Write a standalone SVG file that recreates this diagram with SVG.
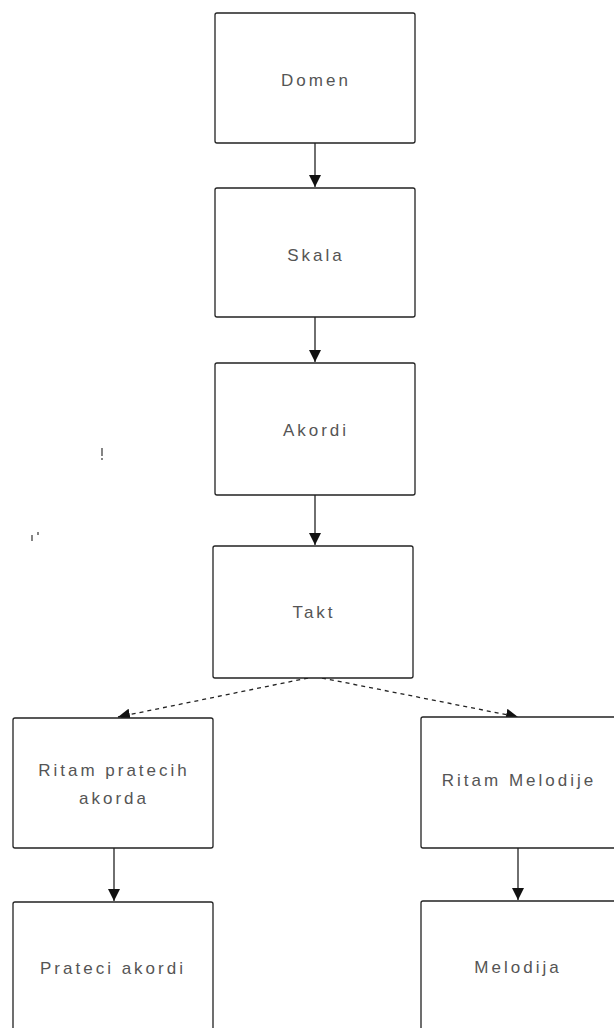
<svg xmlns="http://www.w3.org/2000/svg" width="614" height="1028" viewBox="0 0 614 1028">
  <defs>
    <style>
      .box { fill: #ffffff; stroke: #222222; stroke-width: 1.3; }
      .lbl { font-family: "Liberation Sans", Arial, sans-serif; font-size: 17px; letter-spacing: 3px; fill: #555555; text-anchor: middle; }
      .link { fill: none; stroke: #222222; stroke-width: 1.3; }
      .dash { fill: none; stroke: #222222; stroke-width: 1.3; stroke-dasharray: 4 4; }
      .speck { fill: none; stroke: #333333; stroke-width: 1.2; }
    </style>
    <marker id="tip" viewBox="0 0 12 12" refX="12" refY="6" markerWidth="12" markerHeight="12" markerUnits="userSpaceOnUse" orient="auto">
      <path d="M0,0 L12,6 L0,12 Z" fill="#111111"/>
    </marker>
  </defs>

  <rect width="614" height="1028" fill="#ffffff"/>

  <!-- connectors -->
  <g id="connectors">
    <line class="link" x1="315" y1="143" x2="315" y2="187" marker-end="url(#tip)"/>
    <line class="link" x1="315" y1="317" x2="315" y2="362" marker-end="url(#tip)"/>
    <line class="link" x1="315" y1="495" x2="315" y2="545" marker-end="url(#tip)"/>
    <path class="dash" d="M308,678 L118,717" marker-end="url(#tip)"/>
    <path class="dash" d="M322,678 L518,717" marker-end="url(#tip)"/>
    <line class="link" x1="114" y1="848" x2="114" y2="901" marker-end="url(#tip)"/>
    <line class="link" x1="518" y1="848" x2="518" y2="900" marker-end="url(#tip)"/>
  </g>

  <g id="domen">
    <rect class="box" x="215" y="13" width="200" height="130" rx="2"/>
    <text class="lbl" x="316" y="86">Domen</text>
  </g>
  <g id="skala">
    <rect class="box" x="215" y="188" width="200" height="129" rx="2"/>
    <text class="lbl" x="316" y="261">Skala</text>
  </g>
  <g id="akordi">
    <rect class="box" x="215" y="363" width="200" height="132" rx="2"/>
    <text class="lbl" x="316" y="436">Akordi</text>
  </g>
  <g id="takt">
    <rect class="box" x="213" y="546" width="200" height="132" rx="2"/>
    <text class="lbl" x="314" y="618">Takt</text>
  </g>
  <g id="ritam-pratecih">
    <rect class="box" x="13" y="718" width="200" height="130" rx="2"/>
    <text class="lbl" x="114" y="776">Ritam pratecih</text>
    <text class="lbl" x="114" y="804">akorda</text>
  </g>
  <g id="ritam-melodije">
    <rect class="box" x="421" y="717" width="200" height="131" rx="2"/>
    <text class="lbl" x="519" y="786">Ritam Melodije</text>
  </g>
  <g id="prateci-akordi">
    <rect class="box" x="13" y="902" width="200" height="140" rx="2"/>
    <text class="lbl" x="113" y="974">Prateci akordi</text>
  </g>
  <g id="melodija">
    <rect class="box" x="421" y="901" width="200" height="140" rx="2"/>
    <text class="lbl" x="518" y="973">Melodija</text>
  </g>

  <!-- stray marks -->
  <g id="marks">
    <line class="speck" x1="102" y1="448" x2="102" y2="456"/>
    <line class="speck" x1="102" y1="458" x2="102" y2="460"/>
    <line class="speck" x1="32" y1="535" x2="32" y2="541"/>
    <line class="speck" x1="38" y1="532" x2="38" y2="535"/>
  </g>
</svg>
